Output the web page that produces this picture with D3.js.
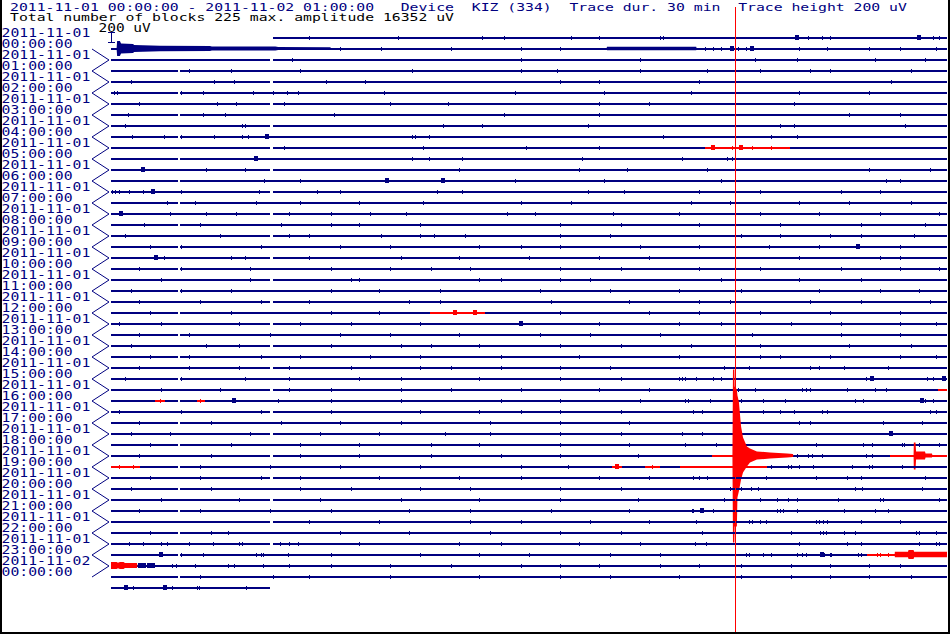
<!DOCTYPE html>
<html><head><meta charset="utf-8">
<script src="https://cdn.jsdelivr.net/npm/d3@7"></script>
<style>html,body{margin:0;padding:0;background:#fff}svg{display:block}</style>
</head><body>
<script>
// ---------------- data ----------------
const titleLine1 = "2011-11-01 00:00:00 - 2011-11-02 01:00:00   Device  KIZ (334)  Trace dur. 30 min  Trace height 200 uV";
const titleLine2 = "Total number of blocks 225 max. amplitude 16352 uV";
const scaleLabel = "200 uV";
const traceMinutes = 30;
const traceHeightUV = 200;
const rowCount = 51;
const firstTraceStart = 5.81;   // minutes: data begins partway through first trace
const lastTraceEnd = 5.72;      // minutes: data ends partway through last trace
const cursorMinute = 22.39;

const labelDates = ["2011-11-01","2011-11-01","2011-11-01","2011-11-01","2011-11-01","2011-11-01","2011-11-01","2011-11-01","2011-11-01","2011-11-01","2011-11-01","2011-11-01","2011-11-01","2011-11-01","2011-11-01","2011-11-01","2011-11-01","2011-11-01","2011-11-01","2011-11-01","2011-11-01","2011-11-01","2011-11-01","2011-11-01","2011-11-02"];
const labelTimes = ["00:00:00","01:00:00","02:00:00","03:00:00","04:00:00","05:00:00","06:00:00","07:00:00","08:00:00","09:00:00","10:00:00","11:00:00","12:00:00","13:00:00","14:00:00","15:00:00","16:00:00","17:00:00","18:00:00","19:00:00","20:00:00","21:00:00","22:00:00","23:00:00","00:00:00"];

// data gaps per trace (minutes), null = none
const gapStart = [null,2.40,5.72,2.40,5.72,2.40,5.72,2.40,5.72,2.40,5.72,2.40,5.72,2.40,5.72,2.40,5.72,2.40,5.72,2.40,5.72,2.40,5.72,2.40,5.72,2.40,5.72,2.40,5.72,2.40,5.72,2.40,5.72,2.40,5.72,2.40,5.72,2.40,5.72,2.40,5.72,2.40,5.72,2.40,5.72,2.40,5.72,2.40,null,2.40,null];
const gapEnd   = [null,2.48,5.81,2.48,5.81,2.48,5.81,2.48,5.81,2.48,5.81,2.48,5.81,2.48,5.81,2.48,5.81,2.48,5.81,2.48,5.81,2.48,5.81,2.48,5.81,2.48,5.81,2.48,5.81,2.48,5.81,2.48,5.81,2.48,5.81,2.48,5.81,2.48,5.81,2.48,5.81,2.48,5.81,2.48,5.81,2.48,5.81,2.48,null,2.48,null];

// small spikes per trace (minute within trace)
const ticks = [
 [7.1,10.3,13.3,14.1,16.5,17.5,19.7,19.8,25.0,25.5,25.8,29.5,29.7],
 [8.2,9.7,12.2,14.7,16.1,21.3,21.6,21.9,22.5,22.8,24.7,25.7,27.2,28.3,29.6],
 [6.5,14.7,19.0,23.1,24.6,27.4,29.2],
 [2.8,4.3,6.8,10.8,14.7,16.0,19.0,21.4,23.3,25.1,25.8,28.7],
 [0.7,3.7,4.4,7.7,9.1,16.1,17.5,21.1,28.0],
 [0.1,0.2,2.5,3.3,5.1,5.8,6.3,6.7,9.8,14.5,17.7,20.8,24.7,27.2],
 [1.0,3.8,4.5,6.2,10.0,12.1,17.5,19.3,24.5],
 [0.6,3.3,4.1,8.0,14.1,17.5,26.5,28.3],
 [0.5,4.7,4.8,11.9,13.3,17.1,24.0,24.5,28.5],
 [0.75,1.9,2.5,3.7,4.7,4.9,10.8,10.9,11.4,19.8,23.7,24.6],
 [6.2,11.2,14.9,17.5,22.3,23.0,23.7],
 [10.8,11.4,12.6,16.9,20.5,22.1,22.3],
 [3.4,4.8,12.5,16.8,18.5,21.4,27.2,29.4],
 [5.5,6.8,14.5,17.7,21.9,27.8,28.3],
 [0.05,0.15,0.3,0.65,1.15,2.5,5.3,7.4,8.2,11.7,12.6,17.1,18.4,21.1,23.3,26.2,27.6],
 [2.0,3.0,5.2,6.8,8.9,11.2,14.7,16.5,20.8,22.2,24.7,26.5,28.7],
 [2.1,3.4,4.5,6.4,7.9,9.3,10.6,14.2,15.2,18.0,20.4,23.3,25.4,27.6,29.7],
 [1.2,3.2,6.1,7.9,8.9,11.1,16.1,18.3,21.1,24.0,26.9,29.2],
 [0.5,3.9,6.4,7.1,9.7,11.1,11.6,12.7,16.1,17.9,22.6,24.0,25.8,26.9,28.8],
 [1.4,2.5,5.4,8.2,10.0,13.2,14.7,16.1,19.0,21.1,23.6,25.4,28.3],
 [1.9,4.3,4.8,7.1,10.4,12.5,15.0,17.5,19.3,22.4,24.7,27.6,28.3],
 [1.0,2.5,5.0,7.9,10.0,11.5,12.9,16.1,18.3,21.1,23.3,26.2,28.3,29.7],
 [1.8,5.0,8.6,8.9,13.2,14.0,16.1,17.2,21.9,24.7,26.9],
 [0.7,2.5,4.3,7.9,9.6,11.8,15.4,17.9,20.4,22.6,25.4,27.6,29.0],
 [1.0,3.2,5.4,7.1,10.7,11.8,15.8,18.6,21.1,22.2,25.1,26.9,29.4],
 [1.4,4.3,7.9,9.6,16.1,19.3,21.1,23.3,25.8,28.3],
 [0.3,1.8,4.6,6.8,8.6,11.1,17.5,20.4,21.9,24.4,26.2,28.3,29.6],
 [1.0,2.8,5.7,8.2,10.0,12.5,15.4,17.2,19.7,23.0,26.2,28.3],
 [0.7,3.4,4.6,7.9,10.4,11.5,13.2,16.1,18.3,20.8,23.3,26.5,28.7],
 [1.4,2.8,5.4,6.8,9.3,11.1,14.0,16.8,20.4,23.3,24.0,25.8,28.3,29.6],
 [1.0,2.8,4.6,6.4,8.6,11.1,12.2,14.0,16.1,17.9,22.0,22.9,25.1,25.4,26.3,27.9],
 [0.5,2.5,4.8,6.4,8.9,10.4,13.2,16.1,18.3,20.4,20.5,20.6,21.0,21.6,21.9,27.1,29.3,29.5],
 [1.8,3.9,6.4,7.9,10.4,12.2,14.7,17.5,19.3,22.5,23.1,24.8,24.95,25.1,26.4,27.4,27.8],
 [1.76,3.19,6.0,7.9,10.4,14.0,16.1,19.0,20.6,20.7,21.5,22.6,23.4,24.2,26.7,27.0,29.2,29.5],
 [0.3,2.5,5.4,7.9,11.1,13.2,14.7,16.1,18.3,20.9,21.2,23.4,24.0,24.5,25.5,25.7,29.4,29.6],
 [1.0,3.6,6.1,8.2,10.4,13.6,16.1,18.6,24.7,25.1,27.7,29.1],
 [0.7,2.1,5.0,7.5,9.6,12.0,13.6,16.1,18.3,20.5,21.2],
 [1.4,4.3,6.8,8.9,11.5,13.2,16.1,18.6,20.6,21.7,25.3,27.0,27.3,28.4,28.45,29.0,29.7],
 [1.0,3.6,6.8,8.9,11.5,14.0,16.1,18.9,24.6,25.0,25.15,25.5,27.1,27.3],
 [0.3,0.8,3.2,5.7,8.2,11.1,14.7,16.4,19.4,23.7,24.3,24.4,24.7,25.2,26.6,27.2,27.3,28.4],
 [1.4,3.2,5.4,6.8,9.6,12.5,14.7,17.5,19.3,20.9,21.1,21.4,23.5,25.3,26.4,26.9,29.2],
 [0.7,3.6,6.8,8.6,11.1,12.9,16.1,18.3,22.2,22.6,22.95,23.2,26.7,26.95,29.1],
 [1.8,4.6,7.5,10.4,13.2,16.1,18.9,22.0,23.3,23.9,24.3,24.6,26.1,27.6,27.7,29.7],
 [1.0,3.2,5.7,7.9,10.7,12.9,15.8,18.6,20.85,20.9,21.6,23.9,24.0,24.1,24.6,26.3,27.4,27.9],
 [7.1,9.6,12.9,14.7,17.2,19.3,21.0,22.9,23.0,23.3,23.5,25.3,25.4,25.55,25.7,26.9,28.3],
 [1.4,3.6,4.2,8.2,10.7,13.6,16.1,18.3,21.2,24.4,25.45,25.55,25.65,26.3,26.7,28.9,29.0,29.6],
 [0.65,1.15,1.8,2.0,2.8,3.65,4.6,4.7,6.05,6.4,6.7,8.9,12.5,14.0,16.8,19.0,20.95,21.35,24.7,26.4,26.9,29.0,29.6,29.7],
 [2.5,3.3,5.2,5.4,5.45,6.35,7.9,11.1,13.2,15.0,17.9,19.7,22.8,22.9,23.4,23.7,24.6,24.8,24.95,25.6,25.8,25.85,26.8,26.9,27.5,27.6,27.9],
 [2.2,2.35,3.0,4.2,4.4,5.45,6.4,7.9,10.0,12.2,14.7,16.1,17.5,19.7,21.1,22.6,24.4,25.8,27.2,28.3],
 [3.2,5.8,7.1,10.0,13.2,16.1,17.9,20.4,22.6,24.4,25.8,27.2,28.7],
 [0.8,2.2,3.1,3.15,4.85]
];

// larger short bursts per trace (minute)
const blobs = [
 [24.6,29.0],[22.3,23.0],[],[],[],[],[],[],[],[5.6],
 [21.6,22.6],[5.2],[1.15],[9.9,11.9],[1.5],[],[0.35],[],[],[26.8],
 [1.6],[],[],[],[],[12.35,13.05],[14.7],[],[],[],
 [],[27.3,29.9],[],[4.4,29.1],[],[],[28.0],[],[],[18.15],
 [],[],[],[21.2],[],[],[],[1.8,25.5],[1.04,1.2,1.35,1.5],[],
 [0.55,1.95]
];

// stretches drawn in red: [trace, fromMinute, toMinute]
const redSpans = [
 [10,21.31,24.36],[25,11.45,13.42],[32,29.68,30],[33,1.58,1.94],[33,3.09,3.37],
 [38,21.57,24.47],[38,27.95,30],[39,0,1.04],[39,17.98,18.34],[39,19.16,19.70],
 [39,20.42,23.54],[47,27.13,30],[48,0,0.93]
];

// event envelopes: [minute, up uV, down uV]
const eventRow1Start = [[0.20,0,0],[0.22,136,136],[0.32,136,136],[0.36,91,91],[0.79,82,82],[0.83,64,64],[1.76,50,50],[3.55,45,45],[3.62,36,36],[5.90,36,36],[6.00,27,27],[7.86,25,25],[7.93,0,0]];
const eventRow1Late  = [[17.78,0,0],[17.80,30,30],[21.00,30,30],[21.02,0,0]];
const quakeRow38 = [[22.30,0,0],[22.32,1564,1582],[22.37,1564,1582],[22.38,1255,1291],[22.46,1200,1291],[22.48,1091,764],[22.53,982,655],[22.61,527,436],[22.68,327,309],[22.82,164,200],[22.93,127,127],[23.18,73,73],[23.65,55,55],[24.26,36,36],[24.47,27,27],[24.49,0,0]];
const aftershockRow38 = [[28.80,0,0],[28.81,236,255],[28.87,236,255],[28.89,73,73],[29.21,73,73],[29.23,36,36],[29.46,36,36],[29.48,0,0]];
const noiseRow47 = [[28.12,0,0],[28.13,49,49],[28.60,49,49],[28.62,82,82],[28.80,82,82],[28.82,49,49],[30,49,49]];
const noiseRow48 = [[0,64,64],[0.20,64,64],[0.25,49,49],[0.32,64,64],[0.45,64,64],[0.50,45,45],[0.93,45,45],[0.95,0,0]];
const envelopes = [[1,eventRow1Start],[1,eventRow1Late],[38,quakeRow38],[38,aftershockRow38],[47,noiseRow47],[48,noiseRow48]];

// ---------------- drawing ----------------
const W = 950, H = 634;
const NAVY = "#000080", RED = "#ff0000";
const FONT = "'DejaVu Sans Mono', 'Liberation Mono', monospace";
const ADV = 8.88;

const svg = d3.select("body").append("svg").attr("width", W).attr("height", H);
svg.append("rect").attr("width", W).attr("height", H).attr("fill", "#fff");

const x = d3.scaleLinear().domain([0, traceMinutes]).range([111, 947]);
const rowY = d3.scaleLinear().domain([0, rowCount - 1]).range([38, 588]);
const amp = d3.scaleLinear().domain([0, traceHeightUV]).range([0, 11]);

function isRed(r, m) { return redSpans.some(s => s[0] === r && m >= s[1] && m <= s[2]); }

const plot = svg.append("g").attr("shape-rendering", "crispEdges");

for (let r = 0; r < rowCount; r++) {
  const y = rowY(r);
  const g = plot.append("g");
  const start = r === 0 ? firstTraceStart : 0;
  const end = r === rowCount - 1 ? lastTraceEnd : traceMinutes;
  const segs = gapStart[r] != null ? [[start, gapStart[r]], [gapEnd[r], end]] : [[start, end]];
  g.selectAll("rect.seg").data(segs).join("rect").attr("class", "seg")
    .attr("x", d => x(d[0])).attr("width", d => Math.max(0, x(d[1]) - x(d[0])))
    .attr("y", y - 1).attr("height", 2).attr("fill", NAVY);
  g.selectAll("rect.red").data(redSpans.filter(s => s[0] === r)).join("rect").attr("class", "red")
    .attr("x", d => x(d[1])).attr("width", d => x(d[2]) - x(d[1]))
    .attr("y", y - 1).attr("height", 2).attr("fill", RED);
  envelopes.filter(e => e[0] === r).forEach(e => {
    const pts = e[1];
    const col = isRed(r, pts[Math.floor(pts.length / 2)][0]) ? RED : NAVY;
    const area = d3.area().x(d => x(d[0])).y0(d => y - 0.5 - amp(d[1])).y1(d => y - 0.5 + amp(d[2]));
    g.append("path").attr("d", area(pts)).attr("fill", col).attr("shape-rendering", "auto");
  });
  g.selectAll("rect.tick").data(ticks[r]).join("rect").attr("class", "tick")
    .attr("x", d => Math.round(x(d))).attr("width", 1.2)
    .attr("y", y - 2).attr("height", 4)
    .attr("fill", d => isRed(r, d) ? RED : NAVY);
  g.selectAll("rect.blob").data(blobs[r]).join("rect").attr("class", "blob")
    .attr("x", d => Math.round(x(d)) - 2).attr("width", 4)
    .attr("y", y - 3).attr("height", 5)
    .attr("fill", d => isRed(r, d) ? RED : NAVY);
}

// hour labels and zigzag pointers
const labels = svg.append("g").attr("font-family", FONT).attr("font-size", 12.5).attr("fill", NAVY);
labelDates.forEach((d, k) => {
  const tip = rowY(2 * k);
  labels.append("text").attr("x", 1.5).attr("y", tip - 1).text(d)
    .attr("textLength", d.length * ADV).attr("lengthAdjust", "spacingAndGlyphs");
  labels.append("text").attr("x", 1.5).attr("y", tip + 10).text(labelTimes[k])
    .attr("textLength", labelTimes[k].length * ADV).attr("lengthAdjust", "spacingAndGlyphs");
});
const zz = [];
for (let k = 1; k < labelDates.length; k++) {
  const tip = rowY(2 * k);
  if (k === 1) zz.push([92, tip - 11]);
  zz.push([109, tip]);
  zz.push([92, tip + 11]);
}
svg.append("path").attr("d", d3.line()(zz)).attr("fill", "none").attr("stroke", NAVY).attr("stroke-width", 1);

// calibration bar
const calBottom = 43, calTop = calBottom - amp(traceHeightUV);
const cal = svg.append("g").attr("stroke", NAVY).attr("stroke-width", 1.2).attr("shape-rendering", "crispEdges");
cal.append("line").attr("x1", 111.5).attr("x2", 111.5).attr("y1", calTop).attr("y2", calBottom);
cal.append("line").attr("x1", 108).attr("x2", 115).attr("y1", calTop + 0.5).attr("y2", calTop + 0.5);
cal.append("line").attr("x1", 108).attr("x2", 115).attr("y1", calBottom - 0.5).attr("y2", calBottom - 0.5);
svg.append("text").attr("x", 98.5).attr("y", 31.5).attr("font-family", FONT).attr("font-size", 12.5)
  .attr("fill", "#000").text(scaleLabel).attr("textLength", scaleLabel.length * 8.7).attr("lengthAdjust", "spacingAndGlyphs");

// titles
svg.append("text").attr("x", 10).attr("y", 10.5).attr("font-family", FONT).attr("font-size", 10.8)
  .attr("fill", NAVY).text(titleLine1).attr("textLength", titleLine1.length * ADV).attr("lengthAdjust", "spacingAndGlyphs")
  .style("white-space", "pre").attr("xml:space", "preserve");
svg.append("text").attr("x", 10).attr("y", 21).attr("font-family", FONT).attr("font-size", 10.5)
  .attr("fill", "#000").text(titleLine2).attr("textLength", titleLine2.length * ADV).attr("lengthAdjust", "spacingAndGlyphs");

// cursor line
svg.append("rect").attr("x", Math.round(x(cursorMinute))).attr("width", 1).attr("y", 7).attr("height", 625).attr("fill", RED);

// frame
svg.append("rect").attr("x", 0).attr("y", 0).attr("width", 2).attr("height", H).attr("fill", "#000");
svg.append("rect").attr("x", 948).attr("y", 0).attr("width", 2).attr("height", H).attr("fill", "#000");
svg.append("rect").attr("x", 0).attr("y", 632).attr("width", W).attr("height", 2).attr("fill", "#000");
</script>
</body></html>
